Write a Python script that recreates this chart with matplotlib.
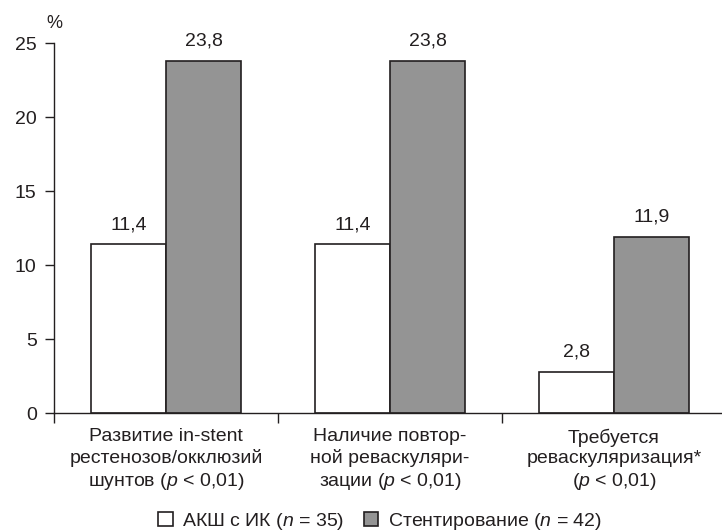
import matplotlib
matplotlib.use("Agg")
import matplotlib.pyplot as plt
from matplotlib.patches import Patch
import numpy as np

plt.rcParams['font.family'] = ['Liberation Sans', 'DejaVu Sans']
plt.rcParams['mathtext.fontset'] = 'custom'
plt.rcParams['mathtext.rm'] = 'Liberation Sans'
plt.rcParams['mathtext.it'] = 'Liberation Sans:italic'

# results per outcome, %
categories = [
    "Развитие in-stent\nрестенозов/окклюзий\nшунтов ($\\mathit{p}$ < 0,01)",
    "Наличие повтор-\nной реваскуляри-\nзации ($\\mathit{p}$ < 0,01)",
    "Требуется\nреваскуляризация*\n($\\mathit{p}$ < 0,01)",
]
cabg = [11.4, 11.4, 2.8]
stent = [23.8, 23.8, 11.9]
cabg_label = "АКШ с ИК ($\\mathit{n}$ = 35)"
stent_label = "Стентирование ($\\mathit{n}$ = 42)"

edge = "#231f20"
gray = "#949494"
fs = 14

fig = plt.figure(figsize=(7.22, 5.30), dpi=100)
ax = fig.add_axes([54 / 722, 117 / 530, 672 / 722, 369.7 / 530])

x = np.arange(len(categories))
w = 0.337
b1 = ax.bar(x - w / 2, cabg, w, color="white", edgecolor=edge, linewidth=1.2)
b2 = ax.bar(x + w / 2, stent, w, color=gray, edgecolor=edge, linewidth=1.2)

for bars, vals in ((b1, cabg), (b2, stent)):
    for r, v in zip(bars, vals):
        ax.annotate(f"{v:.1f}".replace(".", ","), (r.get_x() + r.get_width() / 2, v),
                    xytext=(0, 8), textcoords="offset points",
                    ha="center", va="bottom", fontsize=fs, color=edge)

ax.set_xlim(-0.5, 2.5)
ax.set_ylim(0, 25)
ax.set_yticks([0, 5, 10, 15, 20, 25])
ax.tick_params(axis="y", direction="out", length=6.5, width=1, pad=6,
               labelsize=fs, colors=edge)

# group separators on the x axis, labels sit between them
ax.set_xticks([-0.5, 0.5, 1.5])
ax.set_xticklabels([])
ax.tick_params(axis="x", which="major", direction="out", length=7, width=1, colors=edge)
ax.set_xticks(x, minor=True)
ax.set_xticklabels(categories, minor=True, fontsize=fs, linespacing=1.25, color=edge)
ax.tick_params(axis="x", which="minor", length=0, pad=11)

for s in ("top", "right"):
    ax.spines[s].set_visible(False)
for s in ("left", "bottom"):
    ax.spines[s].set_linewidth(1)
    ax.spines[s].set_color(edge)

fig.text(54 / 722, 1 - 24 / 530, "%", ha="center", va="center", fontsize=13, color=edge)

handles = [Patch(facecolor="white", edgecolor=edge, linewidth=1.2),
           Patch(facecolor=gray, edgecolor=edge, linewidth=1.2)]
fig.legend(handles, [cabg_label, stent_label], loc="center", bbox_to_anchor=(380 / 722, 1 - 521 / 530),
           ncol=2, frameon=False, fontsize=fs, handlelength=0.75, handleheight=0.75,
           handletextpad=0.5, columnspacing=1.0, labelcolor=edge)

fig.savefig("out.png", dpi=100)
